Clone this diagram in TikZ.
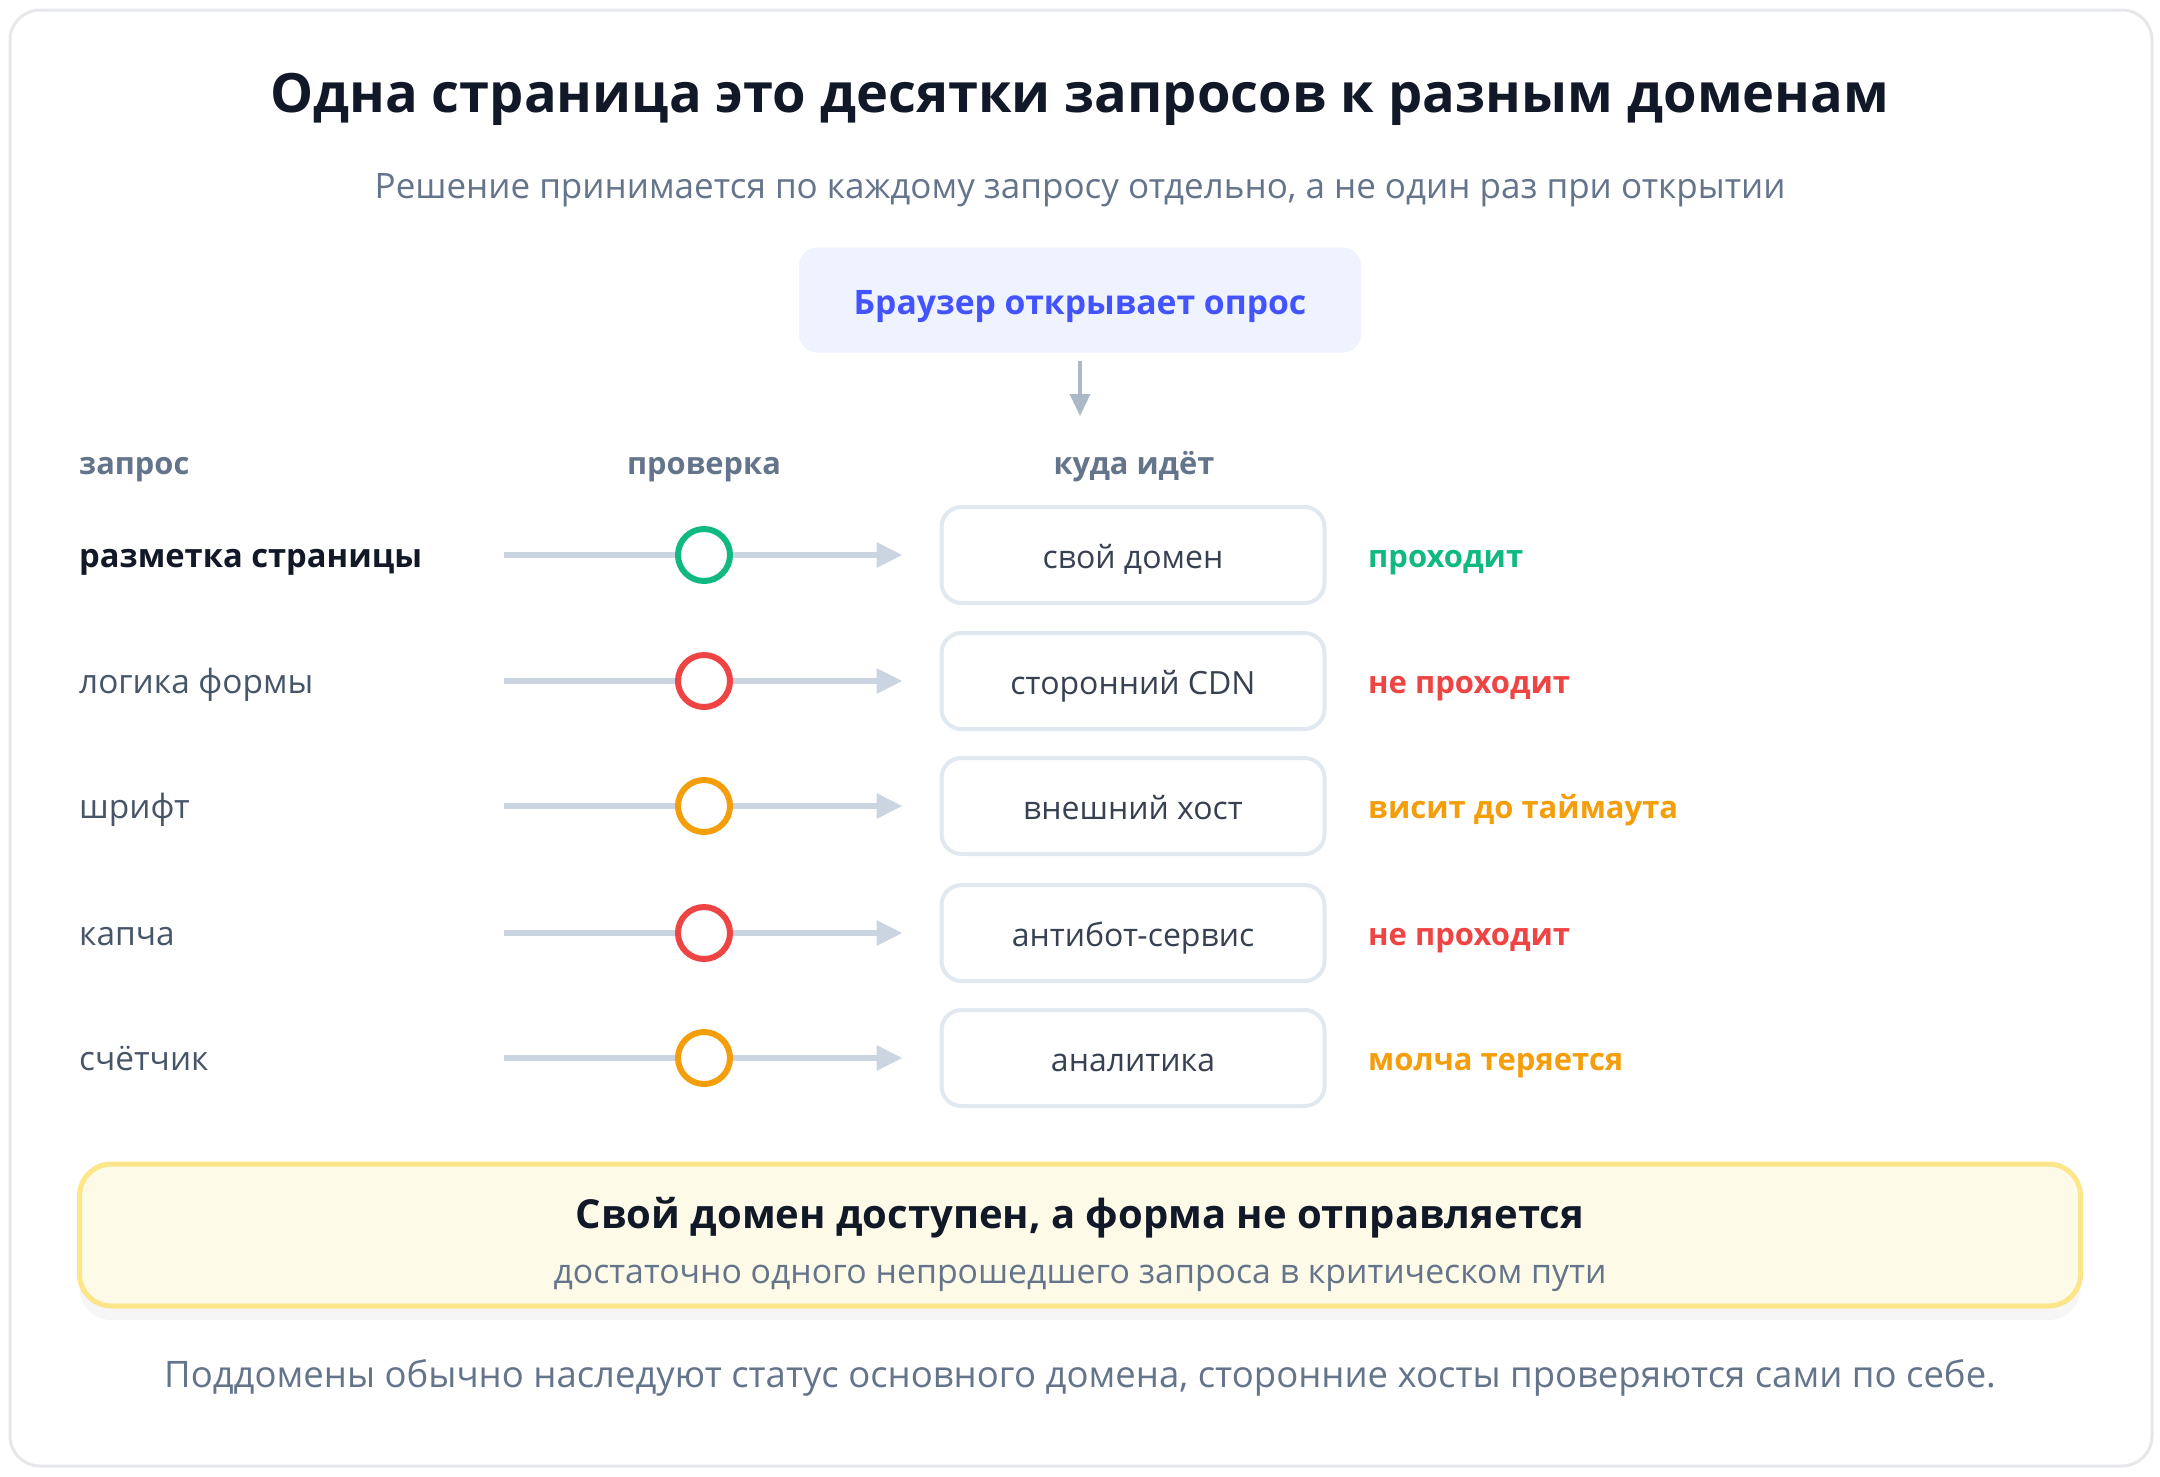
\documentclass[tikz,border=0pt]{standalone}
\usepackage{fontspec}
\setmainfont{Open Sans}
\usepackage{tikz}
\usetikzlibrary{arrows.meta,shadows}

\definecolor{ink}{HTML}{111827}
\definecolor{slate}{HTML}{64748B}
\definecolor{slatedark}{HTML}{475569}
\definecolor{boxtext}{HTML}{374151}
\definecolor{rail}{HTML}{CBD5E1}
\definecolor{boxline}{HTML}{E2E8F0}
\definecolor{frame}{HTML}{E5E7EB}
\definecolor{bluefill}{HTML}{EEF3FF}
\definecolor{bluetext}{HTML}{4353FF}
\definecolor{okgreen}{HTML}{10B981}
\definecolor{badred}{HTML}{EF4444}
\definecolor{waitorange}{HTML}{F59E0B}
\definecolor{notefill}{HTML}{FEFAE8}
\definecolor{noteline}{HTML}{FDE68A}

\newcommand{\fs}[1]{\fontsize{#1}{#1}\selectfont}

\begin{document}
\begin{tikzpicture}[x=1pt,y=-1pt,
    rowlabel/.style={anchor=base west,inner sep=0pt,text=slatedark,font=\fs{33.4}},
    colhead/.style={anchor=base,inner sep=0pt,text=slate,font=\fs{30.8}\bfseries},
    rail/.style={draw=rail,line width=6pt,-{Triangle[length=26pt,width=24pt]},shorten >=37pt},
    check/.style={circle,draw=#1,line width=6pt,fill=white,minimum size=52pt,inner sep=0pt},
    target/.style={draw=boxline,line width=4pt,rounded corners=20pt,fill=white,
        minimum width=383pt,minimum height=96pt,text=boxtext,font=\fs{32},
        text height=26pt,text depth=0pt},
    verdict/.style={anchor=base west,inner sep=0pt,text=#1,font=\fs{31}\bfseries}]
    \useasboundingbox (0,0) rectangle (2160,1476);

    % рамка
    \draw[draw=frame,line width=3pt,fill=white,rounded corners=30pt] (10,10) rectangle (2152,1466);

    % заголовок
    \node[text=ink,font=\fs{54.2}\bfseries] (title) at (1080,99) {Одна страница это десятки запросов к разным доменам};
    \node[text=slate,font=\fs{35}] (subtitle) at (1080,190) {Решение принимается по каждому запросу отдельно, а не один раз при открытии};

    % браузер
    \node[fill=bluefill,rounded corners=18pt,minimum width=562pt,minimum height=105pt,
        text=bluetext,font=\fs{33.7}\bfseries,text depth=0pt,text height=28pt] (browser) at (1080,300) {Браузер открывает опрос};
    \coordinate (down) at (1080,416);
    \draw[draw=rail!70!slate,line width=3.5pt,-{Triangle[length=22pt,width=20pt]},shorten <=8pt] (browser.south) -- (down);

    % столбцы
    \node[colhead,anchor=base west] (h1) at (79,474) {запрос};
    \node[colhead] (h2) at (704,474) {проверка};
    \node[colhead] (h3) at (1134,474) {куда идёт};

    % строка 1
    \node[rowlabel,text=ink,font=\fs{32.7}\bfseries] (r1) at (79,567) {разметка страницы};
    \node[target] (d1) at (1133,555) {свой домен};
    \coordinate (s1) at (504,555);
    \draw[rail] (s1) -- (d1.west);
    \node[check=okgreen] (c1) at (704,555) {};
    \node[verdict=okgreen] (v1) at (1368,567) {проходит};

    % строка 2
    \node[rowlabel] (r2) at (79,693) {логика формы};
    \node[target] (d2) at (1133,681) {сторонний CDN};
    \coordinate (s2) at (504,681);
    \draw[rail] (s2) -- (d2.west);
    \node[check=badred] (c2) at (704,681) {};
    \node[verdict=badred] (v2) at (1368,693) {не проходит};

    % строка 3
    \node[rowlabel] (r3) at (79,818) {шрифт};
    \node[target] (d3) at (1133,806) {внешний хост};
    \coordinate (s3) at (504,806);
    \draw[rail] (s3) -- (d3.west);
    \node[check=waitorange] (c3) at (704,806) {};
    \node[verdict=waitorange] (v3) at (1368,818) {висит до таймаута};

    % строка 4
    \node[rowlabel] (r4) at (79,945) {капча};
    \node[target] (d4) at (1133,933) {антибот-сервис};
    \coordinate (s4) at (504,933);
    \draw[rail] (s4) -- (d4.west);
    \node[check=badred] (c4) at (704,933) {};
    \node[verdict=badred] (v4) at (1368,945) {не проходит};

    % строка 5
    \node[rowlabel] (r5) at (79,1070) {счётчик};
    \node[target] (d5) at (1133,1058) {аналитика};
    \coordinate (s5) at (504,1058);
    \draw[rail] (s5) -- (d5.west);
    \node[check=waitorange] (c5) at (704,1058) {};
    \node[verdict=waitorange] (v5) at (1368,1070) {молча теряется};

    % вывод
    \node[draw=noteline,line width=5pt,fill=notefill,rounded corners=32pt,
        minimum width=2001pt,minimum height=142pt,
        drop shadow={opacity=0.07,shadow xshift=0pt,shadow yshift=-14pt}] (note) at (1080,1235) {};
    \node[text=ink,font=\fs{40}\bfseries] (notetitle) at (1080,1218) {Свой домен доступен, а форма не отправляется};
    \node[text=slate,font=\fs{33.8}] (notesub) at (1080,1278) {достаточно одного непрошедшего запроса в критическом пути};

    % подпись
    \node[text=slate,font=\fs{36.5}] (footer) at (1080,1378) {Поддомены обычно наследуют статус основного домена, сторонние хосты проверяются сами по себе.};
\end{tikzpicture}
\end{document}
